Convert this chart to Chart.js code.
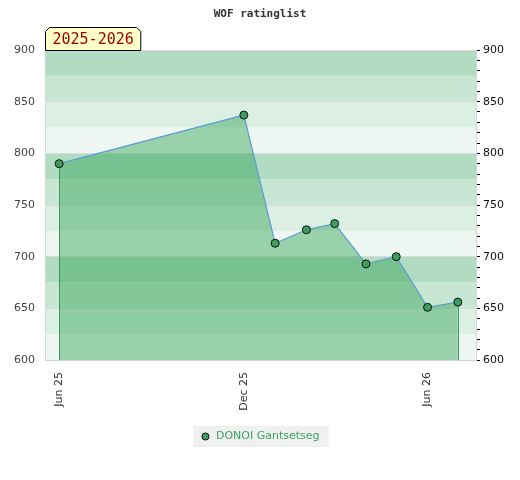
<!DOCTYPE html>
<html lang="en">
<head>
  <meta charset="UTF-8" />
  <title>WOF ratinglist</title>
  <script src="https://cdn.jsdelivr.net/npm/chart.js"></script>
  <style>
    html, body {
      margin: 0;
      padding: 0;
      background: #ffffff;
    }
    #wrap {
      width: 520px;
      height: 480px;
    }
  </style>
</head>
<body>
  <div id="wrap"><canvas id="ratingChart"></canvas></div>

  <script>
    // data
    const seriesName = 'DONOI Gantsetseg';
    const dates = ['2025-06-01', '2025-12-01', '2026-01-01', '2026-02-01', '2026-03-01',
                   '2026-04-01', '2026-05-01', '2026-06-01', '2026-07-01'];
    const ratings = [790, 837, 713, 726, 732, 693, 700, 651, 656];
    const tickDates = ['2025-06-01', '2025-12-01', '2026-06-01'];
    const tickLabels = ['Jun 25', 'Dec 25', 'Jun 26'];
    const xStart = '2025-05-18';
    const xEnd = '2026-07-19';
    const yMin = 600, yMax = 900;
    const seasonLabel = '2025-2026';

    // styling
    const bandColors = ['#b1dcc2', '#c8e6d4', '#dcefe3', '#eef7f1'];
    const bandStep = 25;
    const pointColor = '#3c9d5c';
    const toDay = s => Date.parse(s) / 86400000;

    // horizontal stripes, legend background, end verticals, season tag
    const decor = {
      id: 'decor',
      beforeDraw(chart) {
        const { ctx, chartArea: a } = chart;
        const y = chart.scales.y;
        ctx.save();
        let i = 0;
        for (let v = yMax; v > yMin; v -= bandStep) {
          const top = y.getPixelForValue(v);
          const bot = y.getPixelForValue(v - bandStep);
          ctx.fillStyle = bandColors[i % bandColors.length];
          ctx.fillRect(a.left, top, a.right - a.left, bot - top);
          i++;
        }
        const hb = chart.legend.legendHitBoxes[0];
        if (hb) {
          ctx.fillStyle = '#f0f0f0';
          ctx.fillRect(hb.left - 7, hb.top - 5, hb.width + 16, hb.height + 10);
        }
        ctx.restore();
      },
      beforeDatasetDraw(chart) {
        const { ctx, chartArea: a } = chart;
        const x = chart.scales.x, y = chart.scales.y;
        ctx.save();
        ctx.strokeStyle = '#3a9a58';
        ctx.lineWidth = 1;
        [0, dates.length - 1].forEach(i => {
          const px = Math.round(x.getPixelForValue(toDay(dates[i]))) + 0.5;
          ctx.beginPath();
          ctx.moveTo(px, y.getPixelForValue(ratings[i]));
          ctx.lineTo(px, a.bottom);
          ctx.stroke();
        });
        ctx.restore();
      },
      afterDraw(chart) {
        const { ctx, chartArea: a } = chart;
        ctx.save();
        ctx.font = '15px "DejaVu Sans Mono"';
        const w = ctx.measureText(seasonLabel).width + 14;
        const l = a.left + 0.5, r = l + w, b = a.top + 0.5, t = b - 23, c = 4;
        ctx.beginPath();
        ctx.moveTo(l, b);
        ctx.lineTo(l, t + c);
        ctx.lineTo(l + c, t);
        ctx.lineTo(r - c, t);
        ctx.lineTo(r, t + c);
        ctx.lineTo(r, b);
        ctx.closePath();
        ctx.fillStyle = '#ffffc6';
        ctx.fill();
        ctx.strokeStyle = '#000';
        ctx.lineWidth = 1;
        ctx.stroke();
        ctx.fillStyle = '#990000';
        ctx.textBaseline = 'middle';
        ctx.fillText(seasonLabel, l + 7, t + 13);
        ctx.restore();
      }
    };

    const ctx = document.getElementById('ratingChart').getContext('2d');
    const ratingChart = new Chart(ctx, {
      type: 'line',
      data: {
        datasets: [{
          label: seriesName,
          data: dates.map((d, i) => ({ x: toDay(d), y: ratings[i] })),
          borderColor: '#5a9ed8',
          borderWidth: 1.2,
          backgroundColor: 'rgba(56,165,90,0.47)',
          fill: 'start',
          tension: 0,
          pointRadius: 4,
          pointBackgroundColor: pointColor,
          pointBorderColor: '#111',
          pointBorderWidth: 1
        }]
      },
      options: {
        responsive: true,
        maintainAspectRatio: false,
        animation: false,
        layout: { padding: { left: 0, right: 0, top: 0, bottom: 28 } },
        scales: {
          x: {
            type: 'linear',
            min: toDay(xStart),
            max: toDay(xEnd),
            afterBuildTicks: scale => {
              scale.ticks = tickDates.map(d => ({ value: toDay(d) }));
            },
            afterFit: scale => { scale.height = 61; },
            ticks: {
              autoSkip: false,
              minRotation: 90,
              maxRotation: 90,
              padding: 4,
              color: '#333',
              font: { family: 'DejaVu Sans', size: 11 },
              callback: v => tickLabels[tickDates.findIndex(d => toDay(d) === v)] || ''
            },
            grid: { display: false },
            border: { color: '#d6d6d6' }
          },
          y: {
            position: 'left',
            min: yMin,
            max: yMax,
            afterFit: scale => { scale.width = 45; },
            ticks: {
              stepSize: 50,
              padding: 10,
              color: '#444',
              font: { family: 'DejaVu Sans', size: 11 }
            },
            grid: { color: '#dcdcdc', drawTicks: false },
            border: { color: '#d6d6d6' }
          },
          y2: {
            position: 'right',
            min: yMin,
            max: yMax,
            afterFit: scale => { scale.width = 44; },
            ticks: {
              stepSize: 10,
              autoSkip: false,
              padding: 3,
              color: '#111',
              font: { family: 'DejaVu Sans', size: 11 },
              callback: v => (v % 50 === 0 ? v : '')
            },
            grid: { drawOnChartArea: false, tickLength: 4, tickColor: '#000' },
            border: { color: '#d6d6d6' }
          }
        },
        plugins: {
          title: {
            display: true,
            text: 'WOF ratinglist',
            color: '#333',
            font: { family: 'DejaVu Sans Mono', size: 11, weight: 'bold' },
            padding: { top: 8, bottom: 28.8 }
          },
          legend: {
            position: 'bottom',
            labels: {
              usePointStyle: true,
              boxWidth: 10,
              boxHeight: 5,
              padding: 10,
              font: { family: 'DejaVu Sans', size: 11 },
              generateLabels: () => [{
                text: seriesName,
                fillStyle: pointColor,
                strokeStyle: '#111',
                lineWidth: 1,
                pointStyle: 'circle',
                fontColor: '#3aa55c',
                hidden: false,
                datasetIndex: 0
              }]
            }
          },
          tooltip: { enabled: false }
        }
      },
      plugins: [decor]
    });
  </script>
</body>
</html>
